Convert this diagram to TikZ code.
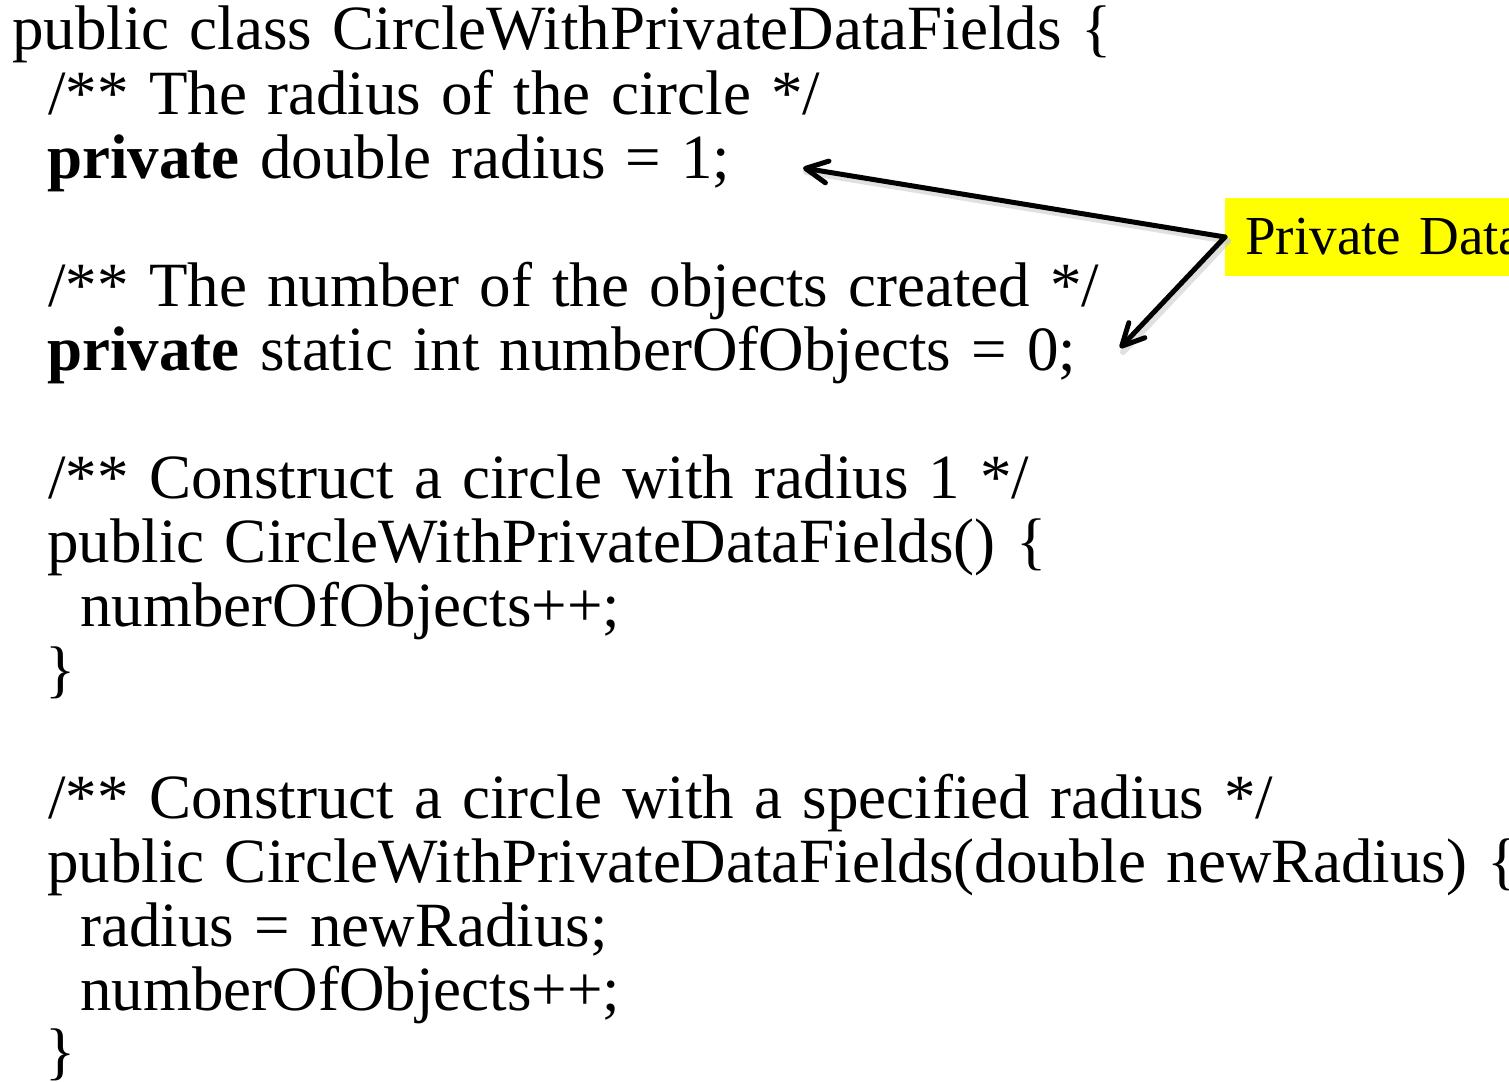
\documentclass[tikz,border=0pt]{standalone}
\usepackage{fontspec}
\setmainfont[WordSpace=1.28]{Liberation Serif}
\usetikzlibrary{arrows.meta}
\definecolor{calloutyellow}{RGB}{255,255,0}
\begin{document}
\begin{tikzpicture}[x=0.5pt,y=-0.5pt,
  code/.style={anchor=base west, inner sep=0pt, font=\fontsize{31.5pt}{32pt}\selectfont},
  callout/.style={fill=calloutyellow, anchor=west, inner xsep=10pt, inner ysep=0pt,
    minimum height=39pt, text height=17pt, text depth=0pt, text width=200pt, align=left,
    font=\fontsize{27.5pt}{28pt}\selectfont},
  pointer/.style={line width=2.5pt, line cap=round, line join=round,
    -{Straight Barb[length=11pt,width=11pt,line cap=round,line join=round]}},
  pointershadow/.style={line width=3pt, black!20, opacity=0.6, line cap=round},
]
\path[use as bounding box] (0,0) rectangle (1509,1081);
\clip (0,0) rectangle (1509,1081);

% source listing, one node per line
\node[code] (l1)  at (12,50)   {public class CircleWithPrivateDataFields \{};
\node[code] (l2)  at (48,114)  {/** The radius of the circle */};
\node[code] (l3)  at (47,178)  {\textbf{private} double radius = 1;};
\node[code] (l5)  at (48,306)  {/** The number of the objects created */};
\node[code] (l6)  at (47,370)  {\textbf{private} static int numberOfObjects = 0;};
\node[code] (l8)  at (48,498)  {/** Construct a circle with radius 1 */};
\node[code] (l9)  at (47,562)  {public CircleWithPrivateDataFields() \{};
\node[code] (l10) at (80,626)  {numberOfObjects++;};
\node[code] (l11) at (45,690)  {\}};
\node[code] (l13) at (48,818)  {/** Construct a circle with a specified radius */};
\node[code] (l14) at (47,882)  {public CircleWithPrivateDataFields(double newRadius) \{};
\node[code] (l15) at (80,946)  {radius = newRadius;};
\node[code] (l16) at (80,1010) {numberOfObjects++;};
\node[code] (l17) at (45,1072) {\}};

% callout and its pointers
\node[callout] (note) at (1225,237) {Private Data};
\coordinate (radiusTip) at (803,168);
\coordinate (countTip) at (1120,348);

\draw[pointershadow] ([shift={(3,4)}]note.west) -- ([shift={(3,4)}]radiusTip);
\draw[pointershadow] ([shift={(3,4)}]note.west) -- ([shift={(3,4)}]countTip);
\draw[pointer] (note.west) -- (radiusTip);
\draw[pointer] (note.west) -- (countTip);
\end{tikzpicture}
\end{document}
